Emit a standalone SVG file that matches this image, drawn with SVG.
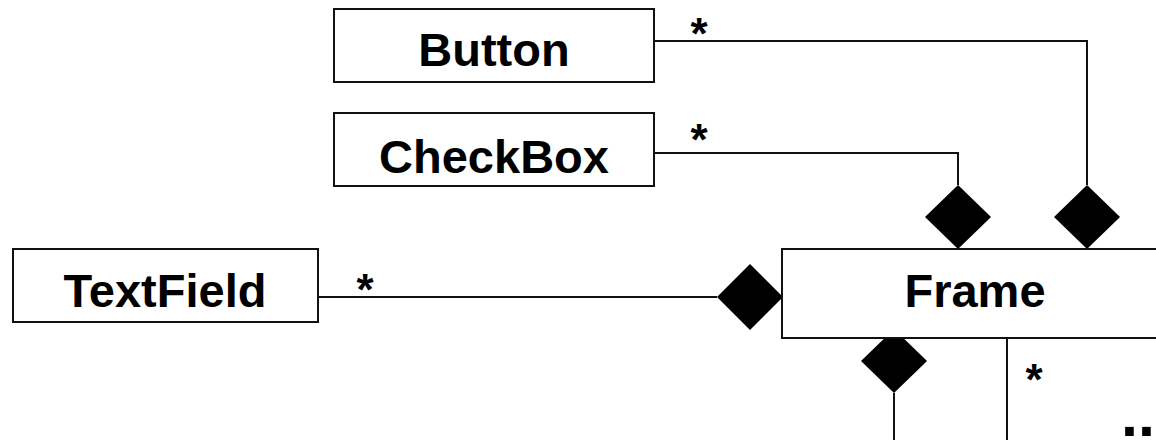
<svg xmlns="http://www.w3.org/2000/svg" width="1156" height="440" viewBox="0 0 1156 440">
  <style>
    .box { fill: #fff; stroke: #111; stroke-width: 2; }
    .name { font-family: "Liberation Sans", Arial, sans-serif; font-weight: bold; font-size: 47px; fill: #000; text-anchor: middle; }
    .mult { font-family: "Liberation Sans", Arial, sans-serif; font-weight: bold; font-size: 44px; fill: #000; text-anchor: middle; }
    .link { fill: none; stroke: #111; stroke-width: 2; }
    .diamond { fill: #000; }
  </style>

  <!-- composition links -->
  <g id="connectors">
    <polyline class="link" points="654,41 1087,41 1087,185"/>
    <polyline class="link" points="654,153 958,153 958,185"/>
    <line class="link" x1="318" y1="297" x2="717" y2="297"/>
    <line class="link" x1="894" y1="393" x2="894" y2="440"/>
    <line class="link" x1="1007" y1="338" x2="1007" y2="440"/>
    <polygon class="diamond" points="1087,185 1120,217 1087,249 1054,217"/>
    <polygon class="diamond" points="958,185 991,217 958,249 925,217"/>
    <polygon class="diamond" points="717,297 750,264 783,297 750,330"/>
    <polygon class="diamond" points="894,329 927,361 894,393 861,361"/>
    <text class="mult" x="699" y="49">*</text>
    <text class="mult" x="699" y="155">*</text>
    <text class="mult" x="365" y="305">*</text>
    <text class="mult" x="1034" y="395">*</text>
  </g>

  <g id="button">
    <rect class="box" x="334" y="9" width="320" height="73"/>
    <text class="name" x="494" y="66">Button</text>
  </g>

  <g id="checkbox">
    <rect class="box" x="334" y="113" width="320" height="73"/>
    <text class="name" x="494" y="173">CheckBox</text>
  </g>

  <g id="textfield">
    <rect class="box" x="13" y="249" width="305" height="73"/>
    <text class="name" x="165" y="307">TextField</text>
  </g>

  <g id="frame">
    <rect class="box" x="782" y="249" width="390" height="89"/>
    <text class="name" x="975" y="307">Frame</text>
  </g>

  <g id="more">
    <text x="1121" y="436" font-family="Liberation Sans, Arial, sans-serif" font-weight="bold" font-size="61" fill="#000">..</text>
  </g>
</svg>
